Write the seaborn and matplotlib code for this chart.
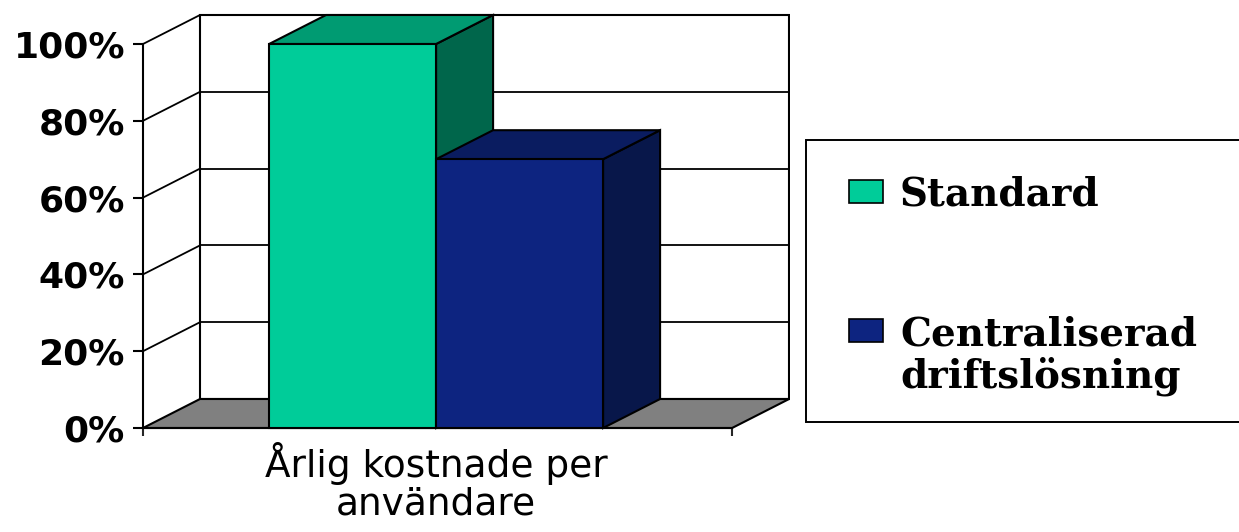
import matplotlib
matplotlib.use("Agg")
import matplotlib.pyplot as plt
import seaborn as sns
import pandas as pd
from matplotlib.patches import Polygon, Rectangle

# ---------------- data ----------------
category = ["Årlig kostnade per\nanvändare"]
series = ["Standard", "Centraliserad\ndriftslösning"]
values = [100, 70]
yticks = [0, 20, 40, 60, 80, 100]
ytick_labels = ["0%", "20%", "40%", "60%", "80%", "100%"]

front_colors = ["#00CC99", "#0D2480"]
top_colors = ["#009B72", "#0A1C60"]
side_colors = ["#00664B", "#08174A"]

# ---------------- layout ----------------
W, H = 1239, 532
sns.set_theme(style="white")
plt.rcParams["font.family"] = ["DejaVu Sans"]

fig = plt.figure(figsize=(W / 100, H / 100), dpi=100)
fig.patch.set_facecolor("white")

def px(x, y):
    return x / W, 1 - y / H

ax_l, ax_r, ax_t, ax_b = 143, 790, 8, 445
ax = fig.add_axes([ax_l / W, 1 - ax_b / H, (ax_r - ax_l) / W, (ax_b - ax_t) / H])
ax.set_facecolor("none")

df = pd.DataFrame({"kategori": category * len(series), "serie": series, "varde": values})
sns.barplot(data=df, x="kategori", y="varde", hue="serie", palette=front_colors,
            width=0.8, saturation=1, edgecolor="black", linewidth=1.5,
            legend=False, ax=ax)

# front plane extent and depth offset (data units)
x0f, x1f = -0.702, 0.709
ppu_x = 417.5           # pixels per x unit
ppu_y = 3.84            # pixels per percent
dx = 57 / ppu_x
dy = 29 / ppu_y
ax.set_xlim(x0f, x0f + (ax_r - ax_l) / ppu_x)
ax.set_ylim(-(ax_b - 428) / ppu_y, (428 - ax_t) / ppu_y)

lw = 1.5
# back wall
ax.add_patch(Rectangle((x0f + dx, dy), x1f - x0f, yticks[-1], facecolor="white",
                       edgecolor="black", linewidth=lw, zorder=0.5))
for t in yticks[1:-1]:
    ax.plot([x0f + dx, x1f + dx], [t + dy, t + dy], color="black", lw=1.3, zorder=0.6)
# left side wall diagonals
for t in yticks[1:]:
    ax.plot([x0f, x0f + dx], [t, t + dy], color="black", lw=1.3, zorder=0.6)
# floor
ax.add_patch(Polygon([(x0f, 0), (x1f, 0), (x1f + dx, dy), (x0f + dx, dy)],
                     closed=True, facecolor="#808080", edgecolor="black",
                     linewidth=lw, zorder=0.7))

# 3D faces for bars
for i, p in enumerate(ax.patches[:len(series)]):
    bx, bw, bh = p.get_x(), p.get_width(), p.get_height()
    side = Polygon([(bx + bw, 0), (bx + bw + dx, dy), (bx + bw + dx, bh + dy), (bx + bw, bh)],
                   closed=True, facecolor=side_colors[i], edgecolor="black",
                   linewidth=lw, zorder=3 + 2 * i)
    top = Polygon([(bx, bh), (bx + bw, bh), (bx + bw + dx, bh + dy), (bx + dx, bh + dy)],
                  closed=True, facecolor=top_colors[i], edgecolor="black",
                  linewidth=lw, zorder=3 + 2 * i)
    ax.add_patch(side)
    ax.add_patch(top)
    p.set_zorder(4 + 2 * i)

# axes / spines
for s in ["top", "right"]:
    ax.spines[s].set_visible(False)
ax.spines["left"].set_bounds(yticks[0], yticks[-1])
ax.spines["left"].set_linewidth(lw)
ax.spines["left"].set_color("black")
ax.spines["bottom"].set_position(("data", 0))
ax.spines["bottom"].set_bounds(x0f, x1f)
ax.spines["bottom"].set_linewidth(lw)
ax.spines["bottom"].set_color("black")
ax.spines["left"].set_zorder(10)

ax.set_yticks(yticks)
ax.set_yticklabels(ytick_labels, fontsize=26, fontweight="bold")
ax.tick_params(axis="y", direction="out", length=7, width=lw, pad=6, colors="black", left=True)
ax.set_xticks([0])
ax.set_xticklabels(category, fontsize=27, linespacing=1.05, fontweight="medium")
ax.set_xticks([x0f, x1f], minor=True)
ax.tick_params(axis="x", which="major", length=0, pad=10, colors="black")
ax.tick_params(axis="x", which="minor", direction="out", length=6, width=lw, bottom=True)
ax.set_xlabel("")
ax.set_ylabel("")
ax.grid(False)

# ---------------- legend (manual box) ----------------
bx0, by0 = px(806, 422)
bx1, by1 = px(1260, 140)
fig.patches.append(Rectangle((bx0, by0), bx1 - bx0, by1 - by0, transform=fig.transFigure,
                             facecolor="white", edgecolor="black", linewidth=1.4, zorder=1))
sq_tops = [180, 319]
last_baselines = [205, 387]
for i, name in enumerate(series):
    sx, sy = px(849, sq_tops[i] + 23)
    fig.patches.append(Rectangle((sx, sy), 34 / W, 23 / H, transform=fig.transFigure,
                                 facecolor=front_colors[i], edgecolor="black",
                                 linewidth=1.2, zorder=2))
    tx, ty = px(900, last_baselines[i])
    fig.text(tx, ty, name, family="DejaVu Serif", fontweight="bold", fontsize=28,
             va="baseline", ha="left", linespacing=1.08, color="black", zorder=3)

fig.savefig("out.png", dpi=100, facecolor="white")
